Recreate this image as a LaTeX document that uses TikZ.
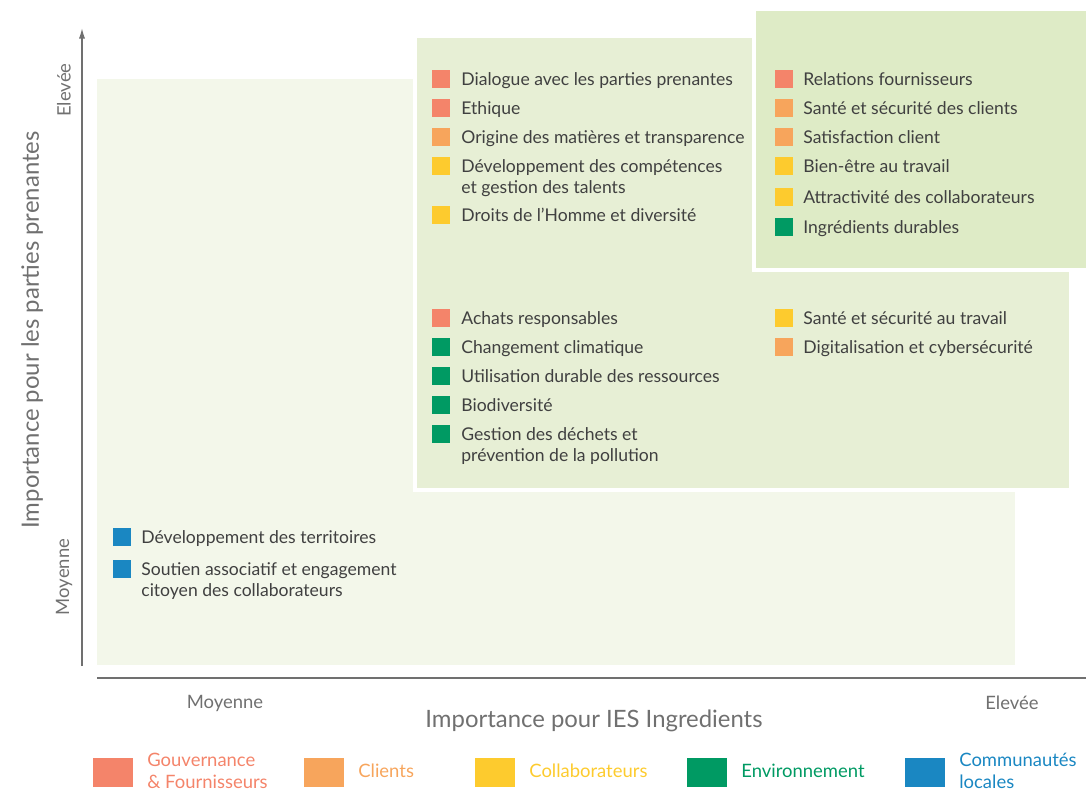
\documentclass[tikz,border=0pt]{standalone}
\usepackage{fontspec}
\setmainfont{Lato}
\usetikzlibrary{arrows.meta}

\definecolor{gouv}{HTML}{F4846A}
\definecolor{clients}{HTML}{F7A55C}
\definecolor{collab}{HTML}{FDCB2E}
\definecolor{envir}{HTML}{009A63}
\definecolor{commu}{HTML}{1A87C2}
\definecolor{zonelow}{HTML}{F3F7EA}
\definecolor{zonemid}{HTML}{E7EFD5}
\definecolor{zonehigh}{HTML}{DEEBC6}
\definecolor{txt}{HTML}{404040}
\definecolor{axisgray}{HTML}{707070}

\newcommand{\lignes}[1]{\begin{tabular}[t]{@{}l@{}}#1\end{tabular}}

\tikzset{
  zone/.style={draw=white, line width=2.3pt},
  carre/.style={minimum size=0.35cm, inner sep=0pt, anchor=west},
  item/.style={anchor=base west, inner sep=0pt, text=txt,
    font=\fontsize{10}{12}\selectfont},
  legbox/.style={minimum width=0.8cm, minimum height=0.58cm, inner sep=0pt, anchor=west},
  legtxt/.style={anchor=west, inner sep=0pt, align=left, font=\fontsize{10.5}{12.2}\selectfont},
  axe/.style={draw=axisgray, line width=0.8pt},
  axetitre/.style={text=axisgray, font=\fontsize{13.6}{16}\selectfont},
  niveau/.style={text=axisgray, font=\fontsize{10.5}{12}\selectfont}
}

\begin{document}
\begin{tikzpicture}[x=0.02cm, y=-0.02cm]
  \useasboundingbox (0,0) rectangle (1086,791);

  % zones
  \fill[zonelow] (97,79) rectangle (1015,665);
  \filldraw[zone, fill=zonemid] (415,36) rectangle (1071,490);
  \filldraw[zone, fill=zonehigh] (754,9) rectangle (1100,270);

  % axes
  \coordinate (y0) at (82,666);
  \coordinate (y1) at (82,28);
  \draw[axe, -{Latex[length=6pt,width=3.5pt]}] (y0) -- (y1);
  \coordinate (x0) at (97,678);
  \coordinate (x1) at (1086,678);
  \draw[axe] (x0) -- (x1);

  \node[axetitre, rotate=90] (ytitre) at (32,330) {Importance pour les parties prenantes};
  \node[niveau, rotate=90] (yhaut) at (64,90) {Elevée};
  \node[niveau, rotate=90] (ybas) at (64,577) {Moyenne};
  \node[axetitre] (xtitre) at (594,721) {Importance pour IES Ingredients};
  \node[niveau] (xbas) at (225,703) {Moyenne};
  \node[niveau] (xhaut) at (1012,703) {Elevée};

  % enjeux, zone haute
  \foreach \y/\c/\t [count=\i] in {79/gouv/Dialogue avec les parties prenantes,
      108/gouv/Ethique, 137/clients/Origine des matières et transparence,
      166/collab/Développement des compétences\\et gestion des talents,
      215/collab/Droits de l'Homme et diversité}{
    \node[carre, fill=\c] (hg-\i-c) at (432,\y) {};
    \node[item] (hg-\i) at (461,\y+6) {\lignes{\t}};
  }
  \foreach \y/\c/\t [count=\i] in {79/gouv/Relations fournisseurs,
      108/clients/Santé et sécurité des clients, 137/clients/Satisfaction client,
      166/collab/Bien-être au travail, 197/collab/Attractivité des collaborateurs,
      227/envir/Ingrédients durables}{
    \node[carre, fill=\c] (hd-\i-c) at (775,\y) {};
    \node[item] (hd-\i) at (803,\y+6) {\lignes{\t}};
  }

  % enjeux, zone moyenne
  \foreach \y/\c/\t [count=\i] in {318/gouv/Achats responsables,
      347/envir/Changement climatique, 376/envir/Utilisation durable des ressources,
      405/envir/Biodiversité,
      434/envir/Gestion des déchets et\\prévention de la pollution}{
    \node[carre, fill=\c] (mg-\i-c) at (432,\y) {};
    \node[item] (mg-\i) at (461,\y+6) {\lignes{\t}};
  }
  \foreach \y/\c/\t [count=\i] in {318/collab/Santé et sécurité au travail,
      347/clients/Digitalisation et cybersécurité}{
    \node[carre, fill=\c] (md-\i-c) at (775,\y) {};
    \node[item] (md-\i) at (803,\y+6) {\lignes{\t}};
  }

  % enjeux, zone basse
  \foreach \y/\t [count=\i] in {537/Développement des territoires,
      569/Soutien associatif et engagement\\citoyen des collaborateurs}{
    \node[carre, fill=commu] (b-\i-c) at (113,\y) {};
    \node[item] (b-\i) at (141,\y+6) {\lignes{\t}};
  }

  % legende
  \foreach \x/\c/\t [count=\i] in {93/gouv/Gouvernance\\\& Fournisseurs,
      304/clients/Clients, 475/collab/Collaborateurs,
      687/envir/Environnement, 905/commu/Communautés\\locales}{
    \node[legbox, fill=\c] (leg-\i-c) at (\x,772) {};
    \node[legtxt, text=\c] (leg-\i) at (\x+54,771) {\t};
  }
\end{tikzpicture}
\end{document}
